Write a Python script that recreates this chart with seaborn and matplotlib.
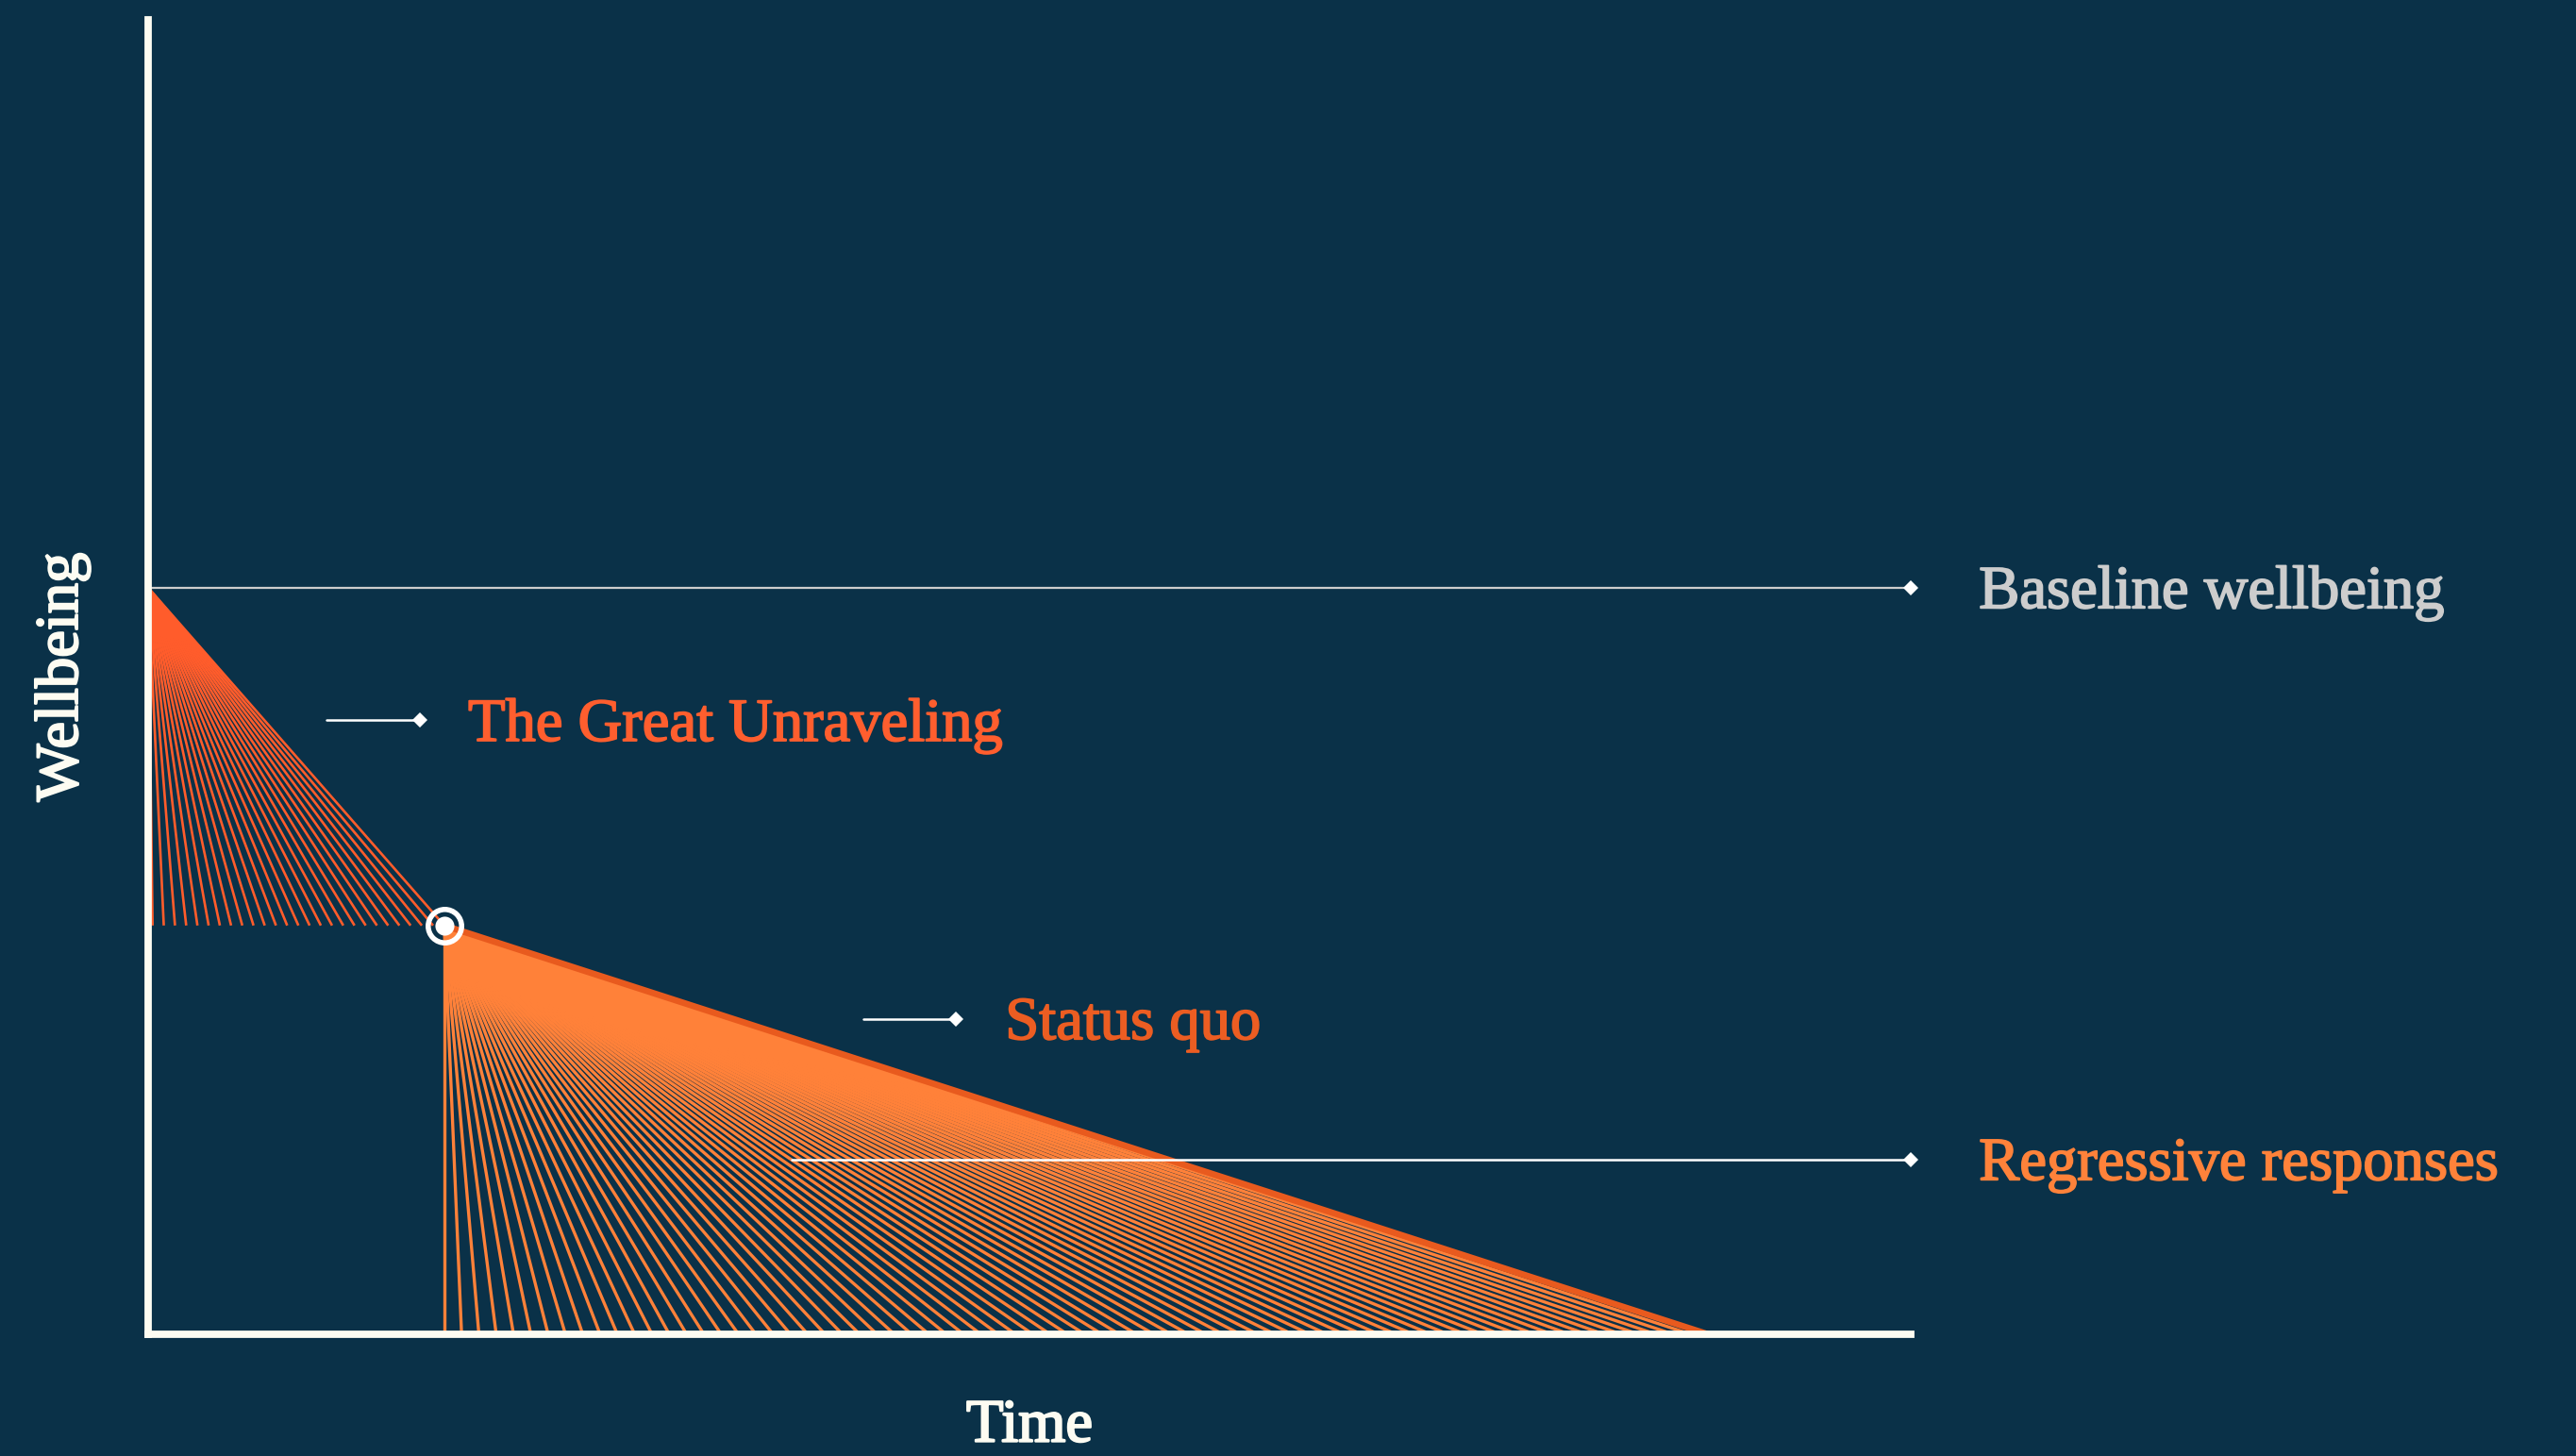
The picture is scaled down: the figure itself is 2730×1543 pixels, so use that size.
import numpy as np
import pandas as pd
import seaborn as sns
import matplotlib.pyplot as plt
import matplotlib.patheffects as pe

# ---------------- data (time 0-100, wellbeing 0-100) ----------------
baseline_t = [0.0, 100.0]
baseline_w = [56.8, 56.8]

unravel_t = [0.0, 16.8]          # apex -> pivot
unravel_w = [56.8, 31.1]

status_quo_t = [16.8, 88.5]      # pivot -> end of status quo
status_quo_w = [31.1, 0.0]

regressive_t = [36.5, 100.0]
regressive_w = [13.3, 13.3]

pointer_unravel_t = [10.1, 15.4]
pointer_unravel_w = [46.7, 46.7]
pointer_status_t = [40.6, 45.8]
pointer_status_w = [24.0, 24.0]

labels = ["The Great Unraveling", "Status quo", "Regressive responses", "Baseline wellbeing"]
axis_labels = ["Time", "Wellbeing"]

unravel_rays = 27
status_quo_rays = 74

# ---------------- style ----------------
BG = "#0A3148"
FAN1 = "#FF5C2B"
FAN2 = "#FF8139"
SQ_LINE = "#E85A1E"
WHITE = "#FDFCF2"
GREY = "#CDCDCD"

sns.set_theme(style="white")
plt.rcParams["font.family"] = ["Liberation Serif", "DejaVu Serif"]
FS = 46.5

fig = plt.figure(figsize=(27.3, 15.43), dpi=100, facecolor=BG)
ax = fig.add_axes([157 / 2730, (1543 - 1414) / 1543, (2025 - 157) / 2730, (1414 - 21) / 1543])
ax.set_facecolor(BG)
ax.set_xlim(0, 100)
ax.set_ylim(0, 100)


def fan(apex_t, apex_w, end_t0, end_t1, end_w, n):
    ends = np.linspace(end_t0, end_t1, n)
    rows = []
    for i, e in enumerate(ends):
        rows.append((i, apex_t, apex_w))
        rows.append((i, e, end_w))
    return pd.DataFrame(rows, columns=["ray", "t", "w"])


fan1 = fan(unravel_t[0], unravel_w[0], unravel_t[0] + 0.25, unravel_t[1], unravel_w[1], unravel_rays)
fan2 = fan(status_quo_t[0], status_quo_w[0], status_quo_t[0], status_quo_t[1], status_quo_w[1], status_quo_rays)

sns.lineplot(data=fan1, x="t", y="w", units="ray", estimator=None, sort=False,
             color=FAN1, lw=1.9, solid_capstyle="butt", legend=False, ax=ax, zorder=2)
sns.lineplot(data=fan2, x="t", y="w", units="ray", estimator=None, sort=False,
             color=FAN2, lw=2.4, solid_capstyle="butt", legend=False, ax=ax, zorder=2)

# status quo path
sns.lineplot(x=status_quo_t, y=status_quo_w, color=SQ_LINE, lw=4.8,
             solid_capstyle="butt", ax=ax, zorder=3)

# baseline and regressive reference lines
ax.plot(baseline_t, baseline_w, color=GREY, lw=1.6, zorder=4, clip_on=False)
ax.plot(baseline_t[-1], baseline_w[-1], marker="D", ms=8, color="white", mew=0, zorder=5, clip_on=False)
ax.plot(regressive_t, regressive_w, color="white", lw=1.8, zorder=4, clip_on=False)
ax.plot(regressive_t[-1], regressive_w[-1], marker="D", ms=8, color="white", mew=0, zorder=5, clip_on=False)

# pointers
for pt, pw in [(pointer_unravel_t, pointer_unravel_w), (pointer_status_t, pointer_status_w)]:
    ax.plot(pt, pw, color="white", lw=1.8, zorder=4)
    ax.plot(pt[-1], pw[-1], marker="D", ms=8, color="white", mew=0, zorder=5)

# pivot marker
ax.plot(unravel_t[1], unravel_w[1], marker="o", ms=25.5, mfc="none", mec="white", mew=4.0, zorder=6)
ax.plot(unravel_t[1], unravel_w[1], marker="o", ms=14.5, mfc="white", mew=0, zorder=6)

# labels
def label(text, x, y, dx, color):
    ax.annotate(text, xy=(x, y), xytext=(dx, -15.5), textcoords="offset points",
                ha="left", va="baseline", fontsize=FS, color=color, annotation_clip=False,
                path_effects=[pe.withStroke(linewidth=1.3, foreground=color)])

label(labels[0], pointer_unravel_t[1], pointer_unravel_w[1], 37, "#FF5E2E")
label(labels[1], pointer_status_t[1], pointer_status_w[1], 38, "#EC5D22")
label(labels[2], regressive_t[1], regressive_w[1], 52, "#FF823A")
label(labels[3], baseline_t[1], baseline_w[1], 52, GREY)

# axes styling
for s in ["top", "right"]:
    ax.spines[s].set_visible(False)
for s in ["left", "bottom"]:
    ax.spines[s].set_color(WHITE)
    ax.spines[s].set_linewidth(5.6)
    ax.spines[s].set_zorder(7)
ax.set_xticks([])
ax.set_yticks([])
xl = ax.set_xlabel(axis_labels[0], fontsize=FS, color=WHITE, labelpad=49)
yl = ax.set_ylabel(axis_labels[1], fontsize=FS, color=WHITE, labelpad=44)
for t in (xl, yl):
    t.set_path_effects([pe.withStroke(linewidth=1.6, foreground=WHITE)])

fig.savefig("out.png", dpi=100, facecolor=BG)
